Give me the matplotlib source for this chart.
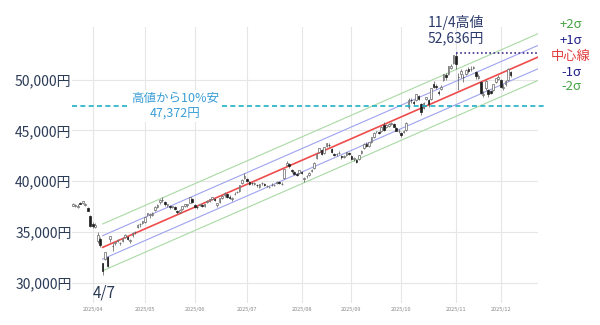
#!/usr/bin/python3
import numpy as np
import pandas as pd
import matplotlib
matplotlib.use("Agg")
import matplotlib.pyplot as plt

plt.rcParams['font.family'] = ['Noto Sans CJK JP', 'DejaVu Sans']

# Tokyo market holidays inside the window
holidays = ['2025-03-20', '2025-04-29', '2025-05-05', '2025-05-06', '2025-07-21',
            '2025-08-11', '2025-09-15', '2025-09-23', '2025-10-13', '2025-11-03',
            '2025-11-24']
days = pd.bdate_range('2025-03-19', '2025-12-05')
days = days[~days.isin(pd.to_datetime(holidays))]

opens = [
    37600, 37600, 37500, 37900, 37850, 37700, 37400, 36600,  # Mar
    35750, 35500, 34100, 34300, 32000, 32400, 32550, 34300, 33600, 33900, 34150,
    33900, 34100, 34500, 34500, 34100, 34700, 35000, 35500, 35800, 35900,  # Apr
    36000, 36800, 36700, 36700, 37200, 37500, 38000, 38200, 38000, 37700, 37600,
    37450, 37500, 37100, 37000, 37300, 37600, 37700, 37900, 38300,  # May
    37700, 37500, 37700, 37700, 37600, 38000, 38100, 38300, 38300, 37700, 38000,
    38400, 38600, 38700, 38500, 38300, 38700, 38900, 39000, 39800, 40300,  # Jun
    40200, 39900, 39800, 39700, 39600, 39400, 39800, 39700, 39500, 39400, 39600,
    39600, 39800, 39900, 39700, 40300, 41600, 41700, 41100, 40900, 40700, 40800,  # Jul
    40900, 40200, 40500, 40600, 41000, 41300, 42300, 42900, 43100, 42800, 43500,
    43600, 43200, 42700, 42700, 42800, 42500, 42400, 42600, 42800,  # Aug
    42500, 42200, 42100, 42200, 42800, 43300, 43700, 43500, 43900, 44400, 44900,
    44800, 44900, 45500, 45300, 45400, 45600, 45600, 45200, 44900,  # Sep
    44700, 44800, 45000, 47300, 48000, 47800, 48000, 48400, 47600, 47200, 48100,
    48000, 48100, 49600, 49400, 48800, 49100, 50000, 50400, 50500, 51100, 51600,  # Oct
    52300, 50300, 50500, 50300, 50500, 51000, 51000, 51100, 50700, 50200, 49800,
    48500, 49200, 49000, 48900, 49000, 49800, 50100,  # Nov
    50000, 49200, 49600, 50000, 50700,  # Dec
]
highs = [
    37900, 37800, 37750, 38000, 38100, 37900, 37450, 36700,
    36000, 35900, 35000, 34500, 32000, 33050, 32650, 34640, 33900, 34050, 34350,
    34000, 34450, 34800, 34600, 34300, 35000, 35100, 35800, 35900, 36100,
    36500, 36900, 36900, 37000, 37600, 37800, 38300, 38500, 38100, 37800, 37700,
    37600, 37600, 37200, 37300, 37600, 37800, 37800, 38450, 38350,
    37800, 37600, 37800, 37800, 37800, 38200, 38300, 38500, 38400, 37900, 38350,
    38600, 38900, 38800, 38600, 38500, 38900, 39000, 39600, 40200, 40850,
    40300, 40000, 39900, 39900, 39700, 39700, 39900, 39800, 39600, 39550, 39800,
    39700, 40000, 40000, 39900, 41200, 42000, 41800, 41200, 41000, 40800, 41100,
    41000, 40400, 40600, 40900, 41200, 41900, 42800, 43300, 43200, 43400, 43800,
    43800, 43300, 42800, 42800, 43000, 42600, 42600, 42900, 42900,
    42600, 42400, 42150, 42600, 43100, 43800, 43850, 43900, 44400, 44800, 44950,
    44900, 45400, 45850, 45600, 45700, 45800, 45700, 45300, 45100,
    44800, 45000, 45800, 48150, 48200, 48000, 48600, 48500, 47700, 47800, 48300,
    48100, 49200, 49900, 49600, 49000, 49500, 50550, 50600, 51350, 51500, 52450,
    52636, 50600, 51000, 50500, 51000, 51200, 51300, 51300, 50800, 50500, 49900,
    48900, 50000, 49100, 49000, 49600, 50200, 50400,
    50100, 49600, 50000, 51100, 50800,
]
lows = [
    37550, 37500, 37400, 37750, 37800, 37550, 37050, 35500,
    35400, 35400, 33900, 33550, 30790, 32300, 31580, 34000, 33100, 33700, 34000,
    33700, 34000, 34400, 34200, 33900, 34500, 34800, 35400, 35500, 35800,
    35900, 36600, 36400, 36600, 37100, 37400, 37800, 38000, 37600, 37500, 37300,
    37400, 37200, 36800, 36900, 37200, 37500, 37500, 37850, 37900,
    37400, 37300, 37600, 37500, 37500, 37900, 38000, 38200, 38100, 37500, 37900,
    38300, 38500, 38400, 38300, 38100, 38600, 38800, 38900, 39700, 40200,
    39900, 39600, 39600, 39600, 39400, 39300, 39600, 39500, 39400, 39300, 39500,
    39500, 39700, 39700, 39600, 40200, 41500, 41300, 40800, 40600, 40500, 40700,
    40700, 39900, 40300, 40500, 40900, 41200, 42200, 42800, 42600, 42700, 43400,
    43400, 42800, 42500, 42500, 42700, 42200, 42300, 42500, 42600,
    42100, 42000, 41800, 42100, 42700, 43200, 43400, 43400, 43800, 44300, 44700,
    44600, 44800, 44900, 45200, 45300, 45500, 45300, 44900, 44700,
    44400, 44700, 44900, 47100, 47700, 47500, 47900, 48000, 46500, 47100, 48000,
    47300, 48000, 49200, 49100, 48500, 49000, 49900, 50000, 50400, 51000, 51500,
    51000, 49000, 50200, 49800, 50400, 50600, 50800, 51000, 50100, 50100, 48600,
    48300, 49000, 48300, 48600, 48900, 49700, 50000,
    49300, 49000, 49400, 49900, 50300,
]
closes = [
    37751, 37677, 37608, 37780, 38027, 37799, 37120, 35617,
    35624, 35725, 34735, 33780, 31136, 33012, 31714, 34609, 33586, 33982, 34267,
    33920, 34377, 34730, 34280, 34220, 34868, 35039, 35705, 35839, 36045,
    36452, 36830, 36780, 36928, 37503, 37644, 38183, 38128, 37755, 37753, 37498,
    37529, 37299, 36985, 37160, 37531, 37724, 37722, 38432, 37965,
    37470, 37446, 37747, 37554, 37741, 38088, 38211, 38421, 38173, 37834, 38311,
    38536, 38885, 38488, 38403, 38354, 38790, 38942, 39584, 40150, 40487,
    39986, 39762, 39785, 39810, 39587, 39688, 39821, 39646, 39569, 39459, 39678,
    39663, 39901, 39819, 39774, 41171, 41826, 41456, 40998, 40674, 40654, 41069,
    40800, 40290, 40549, 40794, 41059, 41820, 42718, 43274, 42649, 43378, 43714,
    43546, 42888, 42610, 42633, 42807, 42394, 42520, 42829, 42718,
    42188, 42310, 41938, 42580, 43018, 43643, 43459, 43837, 44372, 44768, 44902,
    44790, 45303, 45045, 45493, 45630, 45754, 45355, 44913, 44932,
    44550, 44936, 45769, 47944, 47950, 47734, 48580, 48088, 46847, 47672, 48277,
    47582, 49185, 49316, 49307, 48641, 49299, 50512, 50219, 51307, 51325, 52411,
    51497, 50212, 50883, 50276, 50911, 50842, 51063, 51281, 50376, 50323, 48702,
    48537, 49823, 48625, 48659, 49559, 50167, 50253,
    49303, 49303, 49864, 51028, 50491,
]

# trend channel: centre line from 4/7 to the right edge, +-1 and 2 sigma
chan_start = '2025-04-07'
chan_extra_days = 11          # how far the channel runs past the last bar
centre_start, centre_end = 33500, 52210
sigma = 1150

yticks = [30000, 35000, 40000, 45000, 50000]

n = len(days)
assert n == len(opens) == len(highs) == len(lows) == len(closes)
x = np.arange(n)
o = np.array(opens); h = np.array(highs); l = np.array(lows); c = np.array(closes)

fig = plt.figure(figsize=(6, 3.25), dpi=100)
ax = fig.add_axes([0.1193, 0.0677, 0.7774, 0.8493])
x_right = n - 1 + chan_extra_days
ax.set_xlim(-0.5, x_right)
ax.set_ylim(28030, 55170)

# grid
ax.set_yticks(yticks)
ax.set_yticklabels(['{:,}円'.format(v) for v in yticks])
month_first = [i for i in range(1, n) if days[i].month != days[i - 1].month]
ax.set_xticks(month_first)
ax.set_xticklabels([days[i].strftime('%Y/%m') for i in month_first])
ax.grid(True, color='#e6e6e6', lw=0.8)
ax.set_axisbelow(True)
for s in ax.spines.values():
    s.set_visible(False)
ax.tick_params(axis='y', length=0, pad=0, labelsize=10, labelcolor='#2b3a55')
ax.tick_params(axis='x', length=0, pad=3, labelsize=4, labelcolor='#8a8a8a')

# channel
i0 = int(np.where(days == pd.Timestamp(chan_start))[0][0])
cx = np.array([i0, x_right])
cy = np.array([centre_start, centre_end])
for k, col, lw in [(2, '#a9d9a4', 0.8), (1, '#9fa3ee', 0.8)]:
    ax.plot(cx, cy + k * sigma, color=col, lw=lw, zorder=2)
    ax.plot(cx, cy - k * sigma, color=col, lw=lw, zorder=2)
ax.plot(cx, cy, color='#ee4b4b', lw=1.2, zorder=2)

# candles
up = c >= o
ax.vlines(x, l, h, color='#555555', lw=0.5, zorder=3)
ax.bar(x[up], c[up] - o[up], bottom=o[up], width=0.65, color='white',
       edgecolor='#666666', lw=0.5, zorder=4)
ax.bar(x[~up], o[~up] - c[~up], bottom=c[~up], width=0.65, color='#1e1e1e',
       edgecolor='#1e1e1e', lw=0.5, zorder=4)

# peak and 10% drop level
ip = int(np.argmax(h))
peak = h[ip]
drop = peak * 0.9
ax.plot([ip, x_right], [peak, peak], ls=(0, (1, 1.5)), color='#3b2d84', lw=1.2,
        zorder=5)
ax.plot([-0.5, x_right + 3.5], [drop, drop], ls=(0, (3, 2)), color='#1fb0c4',
        lw=1.2, zorder=5, clip_on=False)

ax.text(41.2, drop, '高値から10%安\n{:,.0f}円'.format(drop), ha='center', va='center',
        fontsize=9, color='#3a9ed6', linespacing=1.2, zorder=6,
        bbox=dict(facecolor='white', edgecolor='none', pad=1.5))
ax.text(ip, 54870, '{}/{}高値\n{:,}円'.format(days[ip].month, days[ip].day, peak),
        ha='center', va='center', fontsize=10, color='#2b3a6b', linespacing=1.15,
        clip_on=False)
ax.text(i0 + 0.5, 29020, '{}/{}'.format(days[i0].month, days[i0].day),
        ha='center', va='center', fontsize=11, color='#2b3a55')

# channel legend on the right
for txt, col, ypx in [('+2σ', '#4aa548', 25), ('+1σ', '#24248c', 40),
                      ('中心線', '#e23c3c', 56), ('-1σ', '#24248c', 72),
                      ('-2σ', '#4aa548', 87)]:
    fig.text(571 / 600, 1 - ypx / 325, txt, ha='center', va='center',
             fontsize=9.5, color=col)

fig.savefig('out.png', dpi=100)
